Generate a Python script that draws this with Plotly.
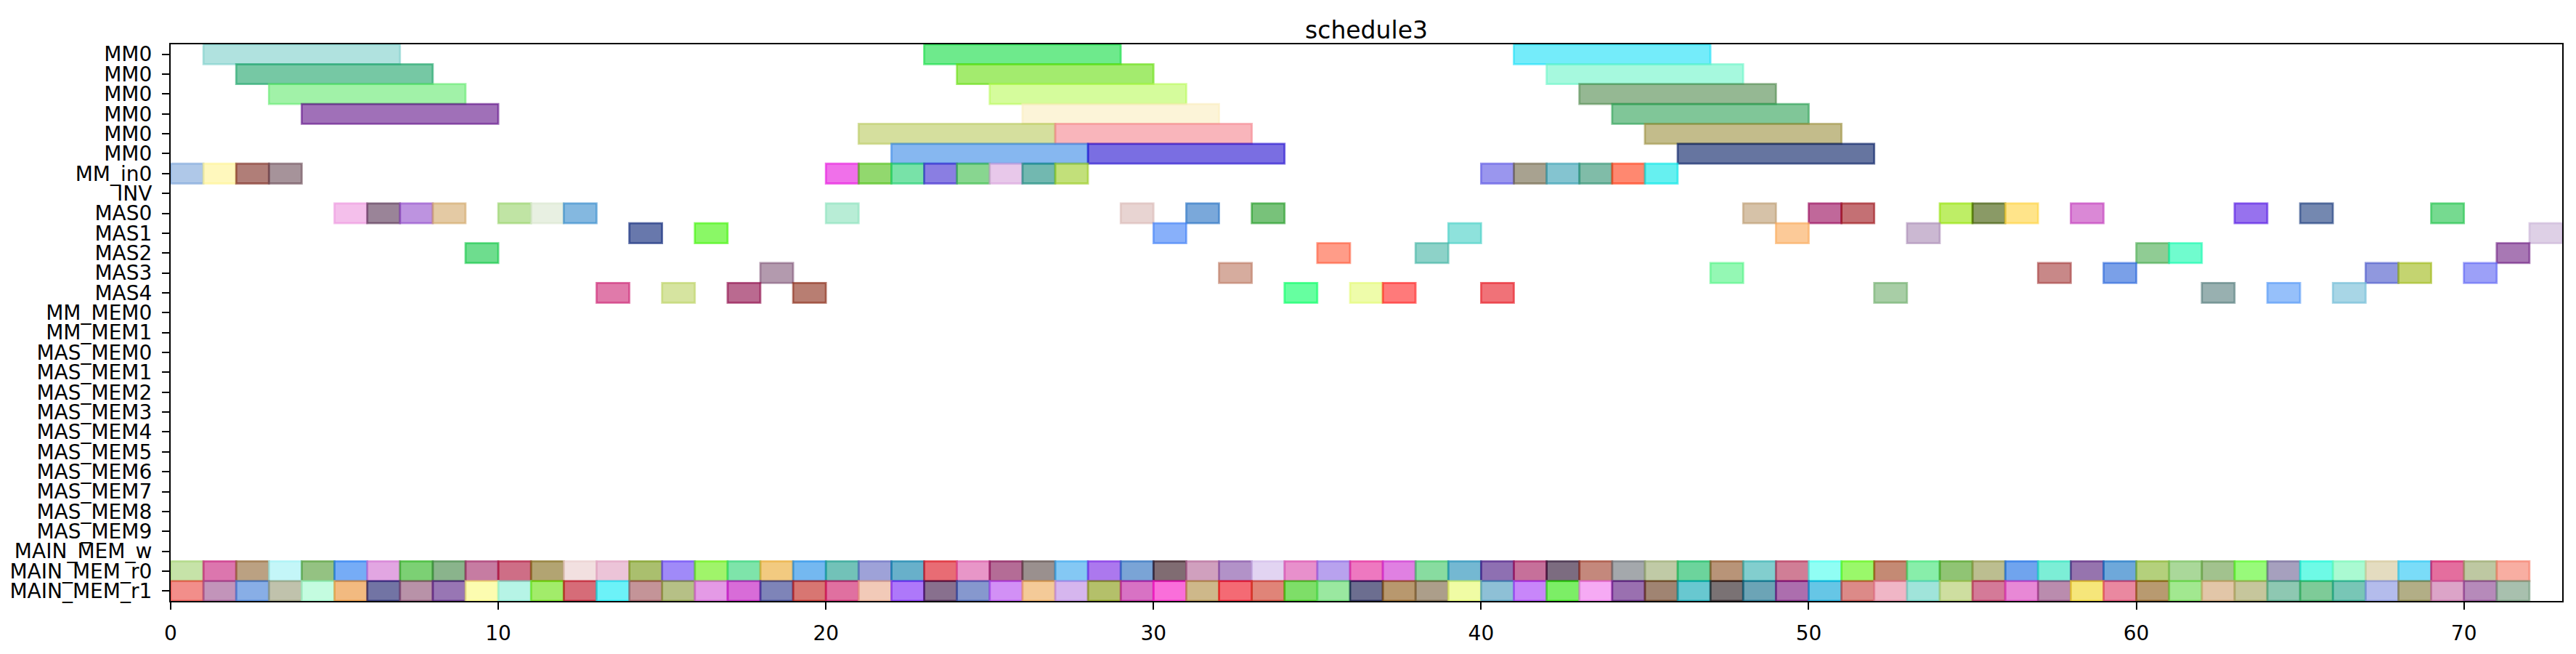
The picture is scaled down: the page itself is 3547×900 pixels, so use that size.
import plotly.graph_objects as go

# --- rows, top to bottom ---
ROW_LABELS = (["MM0"] * 6 + ["MM_in0", "INV", "MAS0", "MAS1", "MAS2", "MAS3", "MAS4",
                             "MM_MEM0", "MM_MEM1"]
              + [f"MAS_MEM{i}" for i in range(10)]
              + ["MAIN_MEM_w", "MAIN_MEM_r0", "MAIN_MEM_r1"])

# MM0 jobs: six lanes, every job lasts 6 time units
MM0_DURATION = 6
MM0_STARTS = [[1, 23, 41], [2, 24, 42], [3, 25, 43], [4, 26, 44], [21, 27, 45], [22, 28, 46]]
MM0_COLORS = [["#B0E2DF", "#6EEA8C", "#74ECFA"],
              ["#76C8A4", "#A3EB6E", "#A6F9DE"],
              ["#A1F2A8", "#D5FC9C", "#95B893"],
              ["#A070B8", "#FCF4D8", "#80C698"],
              ["#D5DF9E", "#F9B5BB", "#C3BC8B"],
              ["#86B7F0", "#7A6EE2", "#6675A0"]]

# single-slot jobs (duration 1)
MM_IN0_STARTS = [0, 1, 2, 3, 20, 21, 22, 23, 24, 25, 26, 27, 40, 41, 42, 43, 44, 45]
MM_IN0_COLORS = ["#AFC8E8", "#FFF8BD", "#B07E78", "#A6939A", "#F070EA", "#92D86E", "#78E2A8",
                 "#8A7EE2", "#88D690", "#E8C8EA", "#72B8B0", "#C2E07A", "#9A96EE", "#A8A290",
                 "#84C4D0", "#80BCA8", "#FF8870", "#64F0F0"]

MAS0_STARTS = [5, 6, 7, 8, 10, 11, 12, 20, 29, 31, 33, 48, 50, 51, 54, 55, 56, 58, 63, 65, 69]
MAS0_COLORS = ["#F4BFEB", "#9A8498", "#BD93E0", "#E4CAA4", "#C0E4A4", "#E8F0E2", "#84B8E0",
               "#B8EDD6", "#E8D4D2", "#7AA8DA", "#78C27A", "#D6C2A8", "#C0689A", "#C47074",
               "#BEEE66", "#8A9A66", "#FFE48A", "#DA88D6", "#9772EE", "#7488B0", "#76DA90"]

MAS1_STARTS = [14, 16, 30, 39, 49, 53, 72]
MAS1_COLORS = ["#6878AC", "#8AF860", "#88B0FA", "#8EE2DC", "#FCCA98", "#CBB8D2", "#DED0E6"]

MAS2_STARTS = [9, 35, 38, 60, 61, 71]
MAS2_COLORS = ["#6EDD8E", "#FF9C88", "#8DD2C8", "#90CC94", "#70FCCE", "#A878B4"]

MAS3_STARTS = [18, 32, 47, 57, 59, 67, 68, 70]
MAS3_COLORS = ["#B39AAE", "#D6AC9E", "#94F8B4", "#C88888", "#7AA0E8", "#9098DE", "#C4D470",
               "#9CA0F8"]

MAS4_STARTS = [13, 15, 17, 19, 34, 36, 37, 40, 52, 62, 64, 66]
MAS4_COLORS = ["#E07AAA", "#D6E4A0", "#BA6A90", "#B87E72", "#66FFA0", "#EEFCAA", "#FF7A7A",
               "#F07278", "#A8CEA6", "#98B0B0", "#96C0FA", "#A8D6E6"]

# main memory reads: one slot per time unit 0..71
MAIN_MEM_SLOTS = list(range(72))
MAIN_MEM_R0_COLORS = [
    "#C6E3A8", "#DC76AE", "#BBA182", "#C4F6F8", "#94C282", "#76ACF6", "#E2A6E2", "#7CD074",
    "#8AB48C", "#C67CA2", "#CE6E86", "#B2A472", "#F2E0E0", "#ECC4D8", "#AABF6E", "#A08AF8",
    "#A0F46A", "#7EE4AA", "#F2CA80", "#74B8F0", "#72C2B8", "#9EA2D8", "#68B0CA", "#E86C74",
    "#E896C8", "#B46C96", "#9A908E", "#84C8F4", "#AC78EE", "#7AA4D6", "#806C72", "#D0A0BE",
    "#B292C8", "#E2D4F2", "#E890CC", "#B8A2EE", "#EE78C0", "#E080E2", "#88DCA0", "#74B8D2",
    "#8E70B2", "#C6709A", "#7C6C80", "#C4887C", "#A4A8AC", "#C0CAA6", "#6CD49C", "#B89478",
    "#82CECE", "#D07E96", "#90FEF4", "#9AF86A", "#C48A74", "#88EEAA", "#90C474", "#BCBE90",
    "#70A4EE", "#7CEED6", "#9674AE", "#6EA8DA", "#B4D07C", "#AAD89A", "#A2C28E", "#98FA7A",
    "#A6A0BE", "#6EFAE6", "#AAFAD2", "#E4DCC0", "#7ADCF8", "#E46E9E", "#BEC8A2", "#F8AEA2"]
MAIN_MEM_R1_COLORS = [
    "#F28E8A", "#C294BA", "#88AEE6", "#C0C2AC", "#C4FCE0", "#F2BA80", "#7274A4", "#B892A8",
    "#9876B4", "#FCFCB0", "#B6F4E6", "#A2EC6A", "#D66C78", "#6CF2F8", "#C49498", "#B6C086",
    "#E49AE6", "#D86CD8", "#7E84B8", "#D87672", "#E070A0", "#F2CAB8", "#AE78FA", "#88708E",
    "#8698CE", "#D290F6", "#F4CA98", "#D6B6EE", "#B4C06A", "#D872C4", "#FA6EDA", "#CEB88A",
    "#F46A74", "#E08478", "#7EDE68", "#9AE8A0", "#6C6E90", "#B8986E", "#AC9E8A", "#F0FCA4",
    "#8EC0D6", "#C886FA", "#7CEE66", "#F6AAF4", "#9A70B0", "#A08472", "#68C8D0", "#7A7274",
    "#6CA4B6", "#AC6EAE", "#64C6E6", "#DC8A88", "#F0B6C6", "#A0E4DA", "#CEDEA0", "#D47A98",
    "#E888D6", "#BA8CAE", "#F6E67A", "#EA88A0", "#B89A70", "#A2E890", "#E2C6A8", "#C6C69C",
    "#8EC8B2", "#7ECB98", "#78C6B6", "#B4BCEC", "#B2AE86", "#DCA4C8", "#B68ABA", "#A8C0AE"]

X_MAX = 73
ALPHA = 0.6
FONT = "DejaVu Sans"


def base_rgba(hexc, a):
    vals = [int(hexc[i:i + 2], 16) for i in (1, 3, 5)]
    base = [max(0, min(255, round(255 - (255 - v) / ALPHA))) for v in vals]
    return f"rgba({base[0]},{base[1]},{base[2]},{a})"


# (row index, starts, duration, colours)
rows = []
for lane in range(6):
    rows.append((lane, MM0_STARTS[lane], MM0_DURATION, MM0_COLORS[lane]))
rows.append((ROW_LABELS.index("MM_in0"), MM_IN0_STARTS, 1, MM_IN0_COLORS))
for name, st, col in [("MAS0", MAS0_STARTS, MAS0_COLORS), ("MAS1", MAS1_STARTS, MAS1_COLORS),
                      ("MAS2", MAS2_STARTS, MAS2_COLORS), ("MAS3", MAS3_STARTS, MAS3_COLORS),
                      ("MAS4", MAS4_STARTS, MAS4_COLORS)]:
    rows.append((ROW_LABELS.index(name), st, 1, col))
rows.append((ROW_LABELS.index("MAIN_MEM_r0"), MAIN_MEM_SLOTS, 1, MAIN_MEM_R0_COLORS))
rows.append((ROW_LABELS.index("MAIN_MEM_r1"), MAIN_MEM_SLOTS, 1, MAIN_MEM_R1_COLORS))

fig = go.Figure()
for row_idx, starts, dur, cols in rows:
    fig.add_trace(go.Bar(
        orientation="h",
        y=[row_idx] * len(starts),
        x=[dur] * len(starts),
        base=starts,
        width=1,
        marker=dict(color=[base_rgba(c, ALPHA) for c in cols],
                    line=dict(color=[base_rgba(c, ALPHA) for c in cols], width=2.8)),
        showlegend=False,
        hoverinfo="skip",
    ))

fig.update_layout(
    width=3547, height=900,
    margin=dict(l=235, r=19, t=61, b=67),
    paper_bgcolor="white", plot_bgcolor="white",
    barmode="overlay",
    font=dict(family=FONT, size=28, color="black"),
    title=dict(text="schedule3", x=0.5, xref="paper", xanchor="center",
               y=1, yref="paper", yanchor="bottom", pad=dict(b=8),
               font=dict(family=FONT, size=33, color="black")),
)
fig.update_xaxes(range=[0, X_MAX], tickvals=list(range(0, X_MAX, 10)),
                 showgrid=False, zeroline=False,
                 showline=True, mirror=True, linecolor="black", linewidth=2.2,
                 ticks="outside", ticklen=10, tickwidth=2.2, tickcolor="black",
                 ticklabelstandoff=8, tickfont=dict(family=FONT, size=28, color="black"))
fig.update_yaxes(range=[len(ROW_LABELS) - 0.5, -0.5],
                 tickvals=list(range(len(ROW_LABELS))), ticktext=ROW_LABELS,
                 showgrid=False, zeroline=False,
                 showline=True, mirror=True, linecolor="black", linewidth=2.2,
                 ticks="outside", ticklen=10, tickwidth=2.2, tickcolor="black",
                 ticklabelstandoff=8, tickfont=dict(family=FONT, size=28, color="black"))

# drop the browser's default body margin so the figure sits flush in the window
fig.write_html("out.html", config={"displayModeBar": False},
               post_script="document.body.style.margin='0';")
